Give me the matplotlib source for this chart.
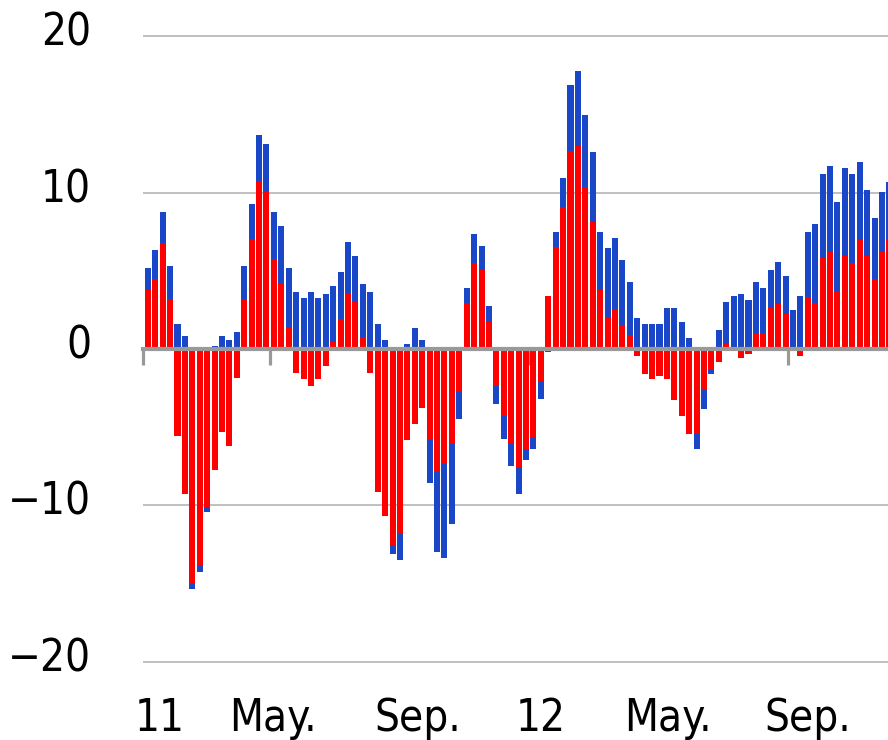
import numpy as np
import pandas as pd
import matplotlib
matplotlib.use('Agg')
import matplotlib.pyplot as plt
import matplotlib.transforms as mtransforms

# weekly values, red series stacked first, blue on top (same-sign stacking)
weeks = pd.date_range('2011-01-06', periods=101, freq='7D')
red = [3.75, 4.47, 6.77, 3.2, -5.56, -9.24, -15.04, -13.9, -10.1, -7.75,
       -5.32, -6.22, -1.87, 3.2, 7.05, 10.73, 10.1, 5.75, 4.24, 1.4,
       -1.51, -1.9, -2.39, -1.9, -1.1, 0.45, 1.94, 3.54, 2.98, 0.79,
       -1.51, -9.14, -10.67, -12.55, -11.8, -5.84, -4.8, -3.8, -5.79, -7.86,
       -7.33, -6.05, -2.75, 2.96, 5.52, 5.03, 1.81, -2.36, -4.28, -6.05,
       -7.54, -6.43, -5.66, -2.1, 3.39, 6.52, 9.07, 12.65, 12.99, 10.35,
       8.16, 3.75, 2.04, 2.58, 1.55, 0.92, -0.45, -1.62, -1.9, -1.75,
       -1.9, -3.28, -4.3, -5.45, -5.41, -2.6, -1.32, -0.85, 0.3, 0.0,
       -0.58, -0.32, 1.04, 1.04, 2.62, 2.88, 2.24, 0.0, -0.47, 3.32,
       2.94, 5.81, 6.2, 3.71, 5.94, 5.5, 6.94, 5.92, 4.45, 6.28,
       6.94]
blue = [1.43, 1.83, 1.98, 2.1, 1.6, 0.83, -0.3, -0.35, -0.3, 0.2,
        0.85, 0.6, 1.1, 2.1, 2.21, 2.97, 2.98, 3.0, 3.6, 3.78,
        3.64, 3.26, 3.64, 3.26, 3.51, 3.58, 2.98, 3.3, 2.96, 3.36,
        3.64, 1.6, 0.58, -0.57, -1.7, 0.32, 1.35, 0.56, -2.8, -5.11,
        -6.0, -5.11, -1.7, 0.94, 1.83, 1.53, 0.92, -1.17, -1.45, -1.45,
        -1.75, -0.68, -0.7, -1.07, -0.2, 0.93, 1.86, 4.24, 4.77, 4.62,
        4.41, 3.7, 4.39, 4.49, 4.12, 3.34, 1.98, 1.6, 1.6, 1.6,
        2.62, 2.62, 1.73, 0.7, -0.96, -1.21, -0.3, 1.24, 2.7, 3.39,
        3.51, 3.13, 3.24, 2.86, 2.43, 2.68, 2.42, 2.49, 3.39, 4.16,
        5.03, 5.35, 5.47, 5.68, 5.63, 5.68, 5.01, 4.24, 3.92, 3.75,
        3.73]

month_ticks = pd.to_datetime(['2011-01-01', '2011-05-01', '2011-09-01',
                              '2012-01-01', '2012-05-01', '2012-09-01'])
month_labels = ['11', 'May.', 'Sep.', '12', 'May.', 'Sep.']
label_shift_days = [16.5, 3.2, 17, 11.3, 10, 19]
y_ticks = [20, 10, 0, -10, -20]

plt.rcParams['font.family'] = ['DejaVu Sans']
plt.rcParams['font.stretch'] = 'condensed'

red = np.array(red)
blue = np.array(blue)
blue_bottom = np.where(np.sign(blue) == np.sign(red), red, 0.0)

fig = plt.figure(figsize=(8.88, 7.4), dpi=100)
ax = fig.add_axes([0.1605, 0.0949, 0.8395, 0.867])

ax.bar(weeks, red, width=5.7, color='#ff0000', linewidth=0, zorder=2)
ax.bar(weeks, blue, bottom=blue_bottom, width=5.7, color='#1a47c8',
       linewidth=0, zorder=2)

for v in y_ticks:
    if v != 0:
        ax.axhline(v, color='#c0c0c0', lw=1.4, zorder=0)

ax.set_ylim(-20.5, 20.5)
ax.set_xlim(pd.Timestamp('2011-01-01'),
            pd.Timestamp('2011-01-01') + pd.Timedelta(days=703.7))

for s in ['top', 'right', 'left']:
    ax.spines[s].set_visible(False)
ax.spines['bottom'].set_position(('data', 0))
ax.spines['bottom'].set_color('#999999')
ax.spines['bottom'].set_linewidth(3)
ax.spines['bottom'].set_zorder(3)

ax.set_xticks(month_ticks)
ax.tick_params(axis='x', length=11.5, width=2.3, color='#999999',
               labelbottom=False)

ax.set_yticks(y_ticks)
ax.set_yticklabels([f'{v:g}'.replace('-', '\u2212') for v in y_ticks])
ax.tick_params(axis='y', length=0, pad=37, labelsize=31.5)
shift = mtransforms.ScaledTranslation(0, -0.095, fig.dpi_scale_trans)
for lab in ax.get_yticklabels():
    lab.set_verticalalignment('baseline')
    lab.set_transform(lab.get_transform() + shift)

trans = mtransforms.blended_transform_factory(ax.transData, fig.transFigure)
for d, lab, sh in zip(month_ticks, month_labels, label_shift_days):
    ax.text(d + pd.Timedelta(days=sh), 0.0125, lab, transform=trans,
            ha='center', va='baseline', fontsize=31.5)

fig.savefig('out.png', dpi=100)
